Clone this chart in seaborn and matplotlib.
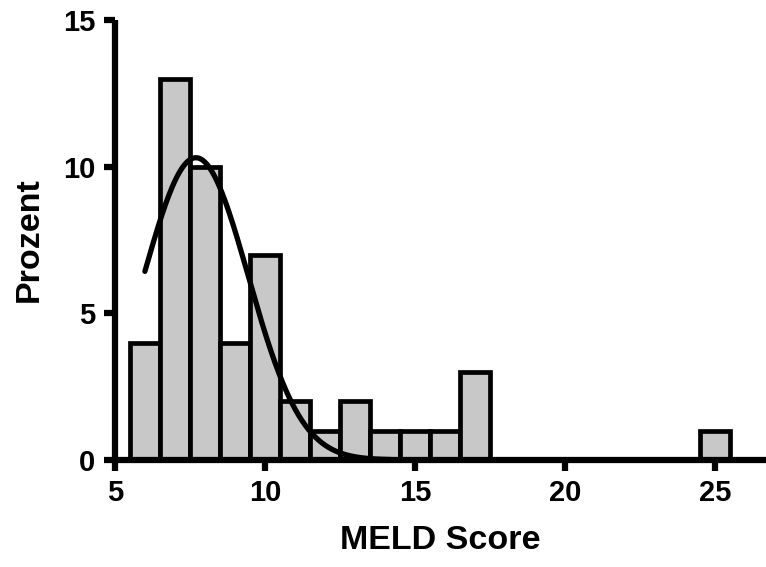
import numpy as np
import matplotlib
matplotlib.use("Agg")
import matplotlib.pyplot as plt
import seaborn as sns

# Data
meld_scores = [6, 7, 8, 9, 10, 11, 12, 13, 14, 15, 16, 17, 25]
percent = [4, 13, 10, 4, 7, 2, 1, 2, 1, 1, 1, 3, 1]
# Gaussian fit
fit_amplitude = 10.3
fit_mean = 7.7
fit_sd = 1.75
fit_range = (6.0, 14.2)
x_ticks = [5, 10, 15, 20, 25]
y_ticks = [0, 5, 10, 15]

sns.set_style("ticks")
plt.rcParams['font.family'] = ['Liberation Sans', 'DejaVu Sans']
plt.rcParams['font.weight'] = 'bold'
plt.rcParams['text.color'] = 'black'
plt.rcParams['axes.labelcolor'] = 'black'
plt.rcParams['xtick.color'] = 'black'
plt.rcParams['ytick.color'] = 'black'
plt.rcParams['axes.edgecolor'] = 'black'

fig = plt.figure(figsize=(7.66, 5.67), dpi=100)
ax = fig.add_axes([0.150, 0.189, 0.850, 0.776])

sns.histplot(x=meld_scores, weights=percent, discrete=True, shrink=1.0,
             color="#c8c8c8", edgecolor="black", linewidth=3.4, alpha=1.0, ax=ax)

xs = np.linspace(fit_range[0], fit_range[1], 300)
ys = fit_amplitude * np.exp(-((xs - fit_mean) ** 2) / (2 * fit_sd ** 2))
sns.lineplot(x=xs, y=ys, color="black", linewidth=3.8, ax=ax)

ax.set_xlim(5, 26.7)
ax.set_ylim(0, 15)
ax.set_xticks(x_ticks)
ax.set_yticks(y_ticks)
for s in ['top', 'right']:
    ax.spines[s].set_visible(False)
for s in ['left', 'bottom']:
    ax.spines[s].set_linewidth(4.5)
    ax.spines[s].set_color('black')
    ax.spines[s].set_capstyle('butt')
ax.tick_params(width=4.5, length=8, labelsize=21, pad=6, colors='black')
for lab in ax.get_xticklabels() + ax.get_yticklabels():
    lab.set_fontweight('bold')

ax.set_xlabel("MELD Score", fontsize=24.5, fontweight='bold', labelpad=13, color='black')
ax.set_ylabel("Prozent", fontsize=24.5, fontweight='bold', labelpad=13, color='black')

fig.savefig("out.png", dpi=100)
